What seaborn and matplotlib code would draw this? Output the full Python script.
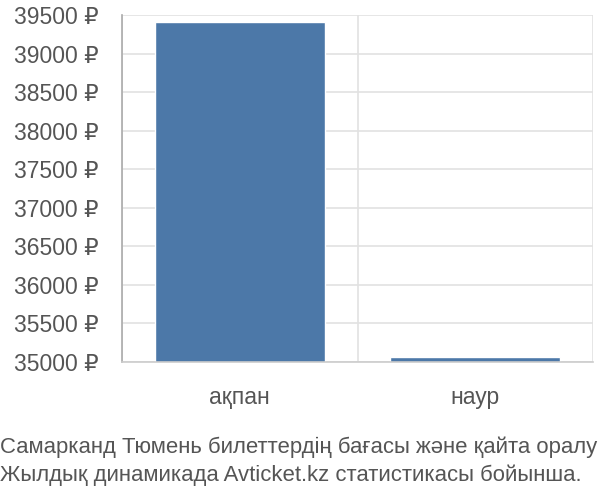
import matplotlib
matplotlib.use("Agg")
import matplotlib.pyplot as plt
from matplotlib.ticker import FixedLocator
import seaborn as sns

# data
months = ["ақпан", "наур"]
prices = [39410, 35065]
y_ticks = list(range(35000, 39501, 500))
caption = ["Самарканд Тюмень билеттердің бағасы және қайта оралу",
           "Жылдық динамикада Avticket.kz статистикасы бойынша."]

sns.set_style("white")
plt.rcParams['font.family'] = ['Liberation Sans', 'DejaVu Sans']

bar_color = "#4c78a8"
text_color = "#555555"
grid_color = "#e2e2e2"

fig = plt.figure(figsize=(6, 5), dpi=100)
ax = fig.add_axes([122/600, 1 - 362/500, 471/600, 347/500])

sns.barplot(x=months, y=prices, color=bar_color, saturation=1, width=0.72, ax=ax)

ax.set_xlim(-0.5, 1.5)
ax.set_ylim(35000, 39500)
ax.set_yticks(y_ticks)
ax.set_yticklabels([f"{v} ₽" for v in y_ticks])
ax.set_xlabel("")
ax.set_ylabel("")

# horizontal grid + category boundary lines
ax.yaxis.grid(True, color=grid_color, linewidth=1.2)
ax.xaxis.set_minor_locator(FixedLocator([-0.5, 0.5, 1.5]))
ax.xaxis.grid(True, which="minor", color=grid_color, linewidth=1.2)
ax.set_axisbelow(True)

ax.tick_params(axis="y", length=15, color=grid_color, width=1.2, pad=2,
               labelsize=16.5, labelcolor=text_color)
ax.tick_params(axis="x", which="major", length=0, pad=17,
               labelsize=16.5, labelcolor=text_color)
ax.tick_params(axis="x", which="minor", length=14, color=grid_color, width=1.2)

for s in ["top", "right"]:
    ax.spines[s].set_visible(False)
ax.spines["left"].set_color("#aaaaaa")
ax.spines["bottom"].set_color("#cccccc")
ax.spines["left"].set_linewidth(1.2)
ax.spines["bottom"].set_linewidth(1.2)

fig.text(0.0, 1 - 447/500, caption[0], fontsize=15.9, color=text_color, va="center")
fig.text(0.0, 1 - 475/500, caption[1], fontsize=15.9, color=text_color, va="center")

fig.savefig("out.png", dpi=100)
